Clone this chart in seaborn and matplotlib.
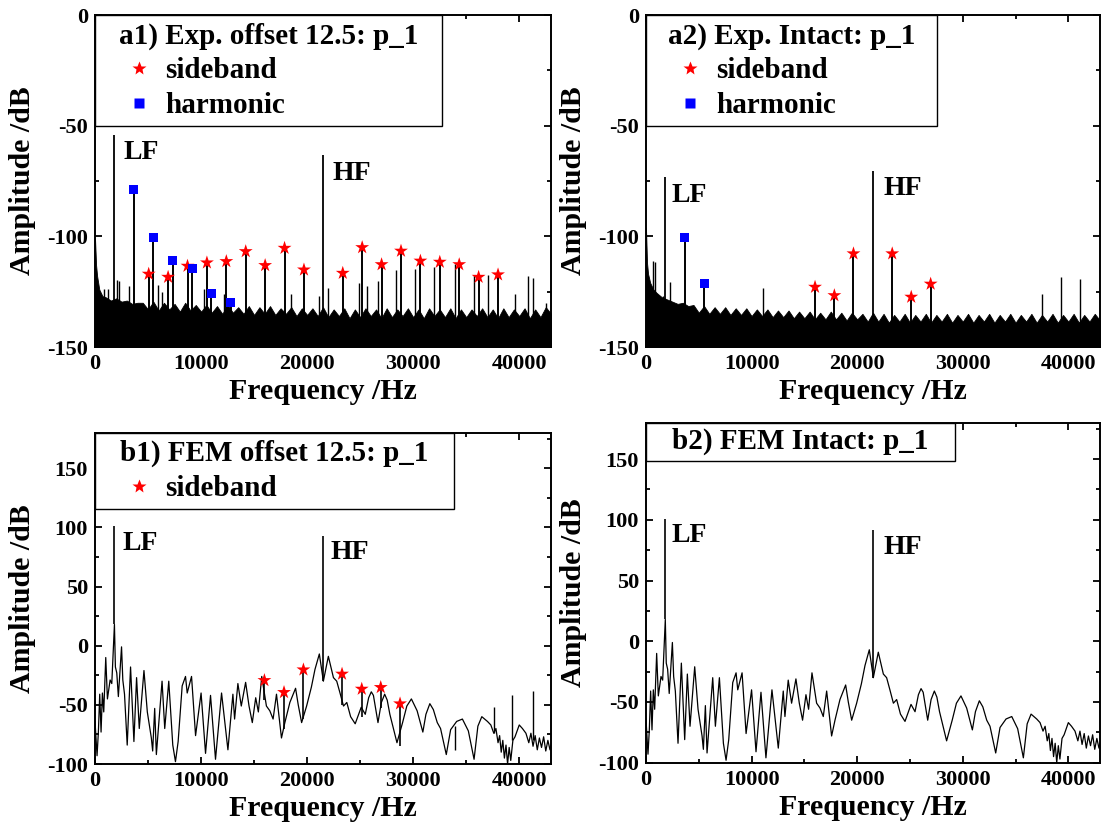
import matplotlib
matplotlib.use("Agg")
import matplotlib.pyplot as plt
import seaborn as sns
from matplotlib.lines import Line2D
from matplotlib.patches import Rectangle
from matplotlib.ticker import MultipleLocator

# ---------------- data ----------------
freq_ticks = [0, 10000, 20000, 30000, 40000]
exp_yticks = [0, -50, -100, -150]
fem_yticks = [-100, -50, 0, 50, 100, 150]

# a1) Exp. offset 12.5
a1_lf = [1830, -54.1]
a1_hf = [21530, -63.4]
a1_sb_freq = [5060, 6890, 8720, 10550, 12380, 14210, 16040, 17870, 19700,
              23360, 25190, 27020, 28850, 30680, 32510, 34340, 36170, 38000]
a1_sb_db = [-117.0, -118.4, -113.4, -111.9, -111.3, -106.8, -113.1, -105.3, -115.1,
            -116.6, -105.0, -112.7, -106.6, -111.1, -111.6, -112.7, -118.4, -117.3]
a1_h_freq = [3660, 5490, 7320, 9150, 10980, 12810]
a1_h_db = [-78.9, -100.3, -110.8, -114.5, -125.9, -130.1]
a1_extra_freq = [800, 1260, 2050, 2270, 3250, 5950, 6300, 10250, 12150, 18500, 21100,
                 21950, 24850, 25600, 26700, 28400, 30200, 32000, 33900, 35700, 37100,
                 39600, 40800, 41300, 42500]
a1_extra_db = [-124, -124, -119.5, -120, -122.6, -122, -125, -124, -126, -126, -127,
               -123.5, -121, -122.5, -120, -115, -114.6, -114, -112.3, -117.6, -117.6,
               -126, -118, -119, -130]

# a2) Exp. Intact
a2_lf = [1830, -73.2]
a2_hf = [21530, -70.5]
a2_sb_freq = [16010, 17840, 19650, 23320, 25120, 26960]
a2_sb_db = [-122.9, -126.7, -107.8, -107.8, -127.4, -121.5]
a2_h_freq = [3670, 5500]
a2_h_db = [-100.6, -121.1]
a2_extra_freq = [700, 850, 1600, 2235, 11080, 37500, 39340, 41090]
a2_extra_db = [-111, -111.5, -127, -120.6, -123.2, -126, -118.4, -119.3]

# noise floor (upper envelope) of the measured spectra
noise_freq = [0, 100, 200, 400, 700, 1000, 1500, 2000, 2500, 3000, 3500, 4000,
              4500, 5000, 5500, 6000, 6500, 7000, 7500, 8000, 8500, 9000, 9500, 10000,
              10500, 11000, 11500, 12000, 12500, 13000, 13500, 14000, 14500, 15000,
              15500, 16000, 16500, 17000, 17500, 18000, 18500, 19000, 19500, 20000,
              20500, 21000, 21500, 22000, 22500, 23000, 23500, 24000, 24500, 25000,
              25500, 26000, 26500, 27000, 27500, 28000, 28500, 29000, 29500, 30000,
              30500, 31000, 31500, 32000, 32500, 33000, 33500, 34000, 34500, 35000,
              35500, 36000, 36500, 37000, 37500, 38000, 38500, 39000, 39500, 40000,
              40500, 41000, 41500, 42000, 42500, 43000]
a1_noise_db = [-101, -113, -118, -124, -127, -127.5, -129, -128, -129.5, -129, -130.5, -130,
               -130, -133, -129.5, -133.5, -130, -133, -130.5, -134, -130, -133.5, -131, -134,
               -131, -134.5, -131.5, -135, -131, -134.5, -132, -135, -131.5, -135.5,
               -132, -135, -131.5, -135.5, -132.5, -135, -132, -136, -132.5, -135.5,
               -132.5, -136, -132, -136.5, -133, -136, -132.5, -137, -133, -136.5,
               -132.5, -136, -133, -137, -132.5, -136.5, -133, -136, -132.5, -136.5,
               -133, -137, -132.5, -136, -133, -136.5, -132.5, -137, -133, -136.5,
               -133, -136, -132.5, -136.5, -133, -137, -132.5, -136.5, -133, -136,
               -132.5, -137, -133, -136.5, -132, -135]
a2_noise_db = [-96, -112, -117, -121, -124, -125.5, -127.5, -128.5, -129.5, -130.5, -130, -131.5,
               -131, -134.5, -131.5, -135, -132, -135, -132, -135.5, -132.5, -135.5, -132.5, -136,
               -133, -136, -133, -136.5, -133.5, -136.5, -133.5, -137, -134, -137,
               -134, -137.5, -134.5, -137.5, -134, -137.5, -134.5, -138, -134.5, -137.5,
               -135, -138.5, -134.5, -138.5, -135, -139, -135.5, -138.5, -135, -139,
               -135.5, -138.5, -135, -139, -135.5, -138.5, -135, -139, -135.5, -138.5,
               -135, -139, -135.5, -138.5, -135, -139, -135.5, -138.5, -135, -139,
               -135.5, -138.5, -135, -139, -135.5, -138.5, -135, -139, -135.5, -138.5,
               -135, -139, -135.5, -138.5, -135, -138]

# FEM spectrum (shared base curve of b1 / b2)
fem_freq = [0, 190, 316, 442, 569, 695, 822, 1011, 1169, 1422, 1580, 1830, 1920, 2050,
            2200, 2500, 2620, 2780, 3034, 3350, 3666, 3918, 4171, 4614, 4930, 5310,
            5435, 5625, 5783, 6320, 6573, 6952, 7331, 7584, 7837, 8216, 8532, 8690,
            9100, 9480, 10000, 10420, 10890, 11360, 11930, 12530, 13000, 13160, 13470,
            13790, 14200, 14520, 14830, 15150, 15400, 15720, 16160, 16480, 16790,
            17110, 17580, 17900, 18370, 18910, 19160, 19480, 19950, 20400, 20740,
            21150, 21530, 22000, 22480, 22790, 23100, 23430, 23740, 24100, 24530,
            25100, 25480, 25800, 26050, 26250, 26400, 26680, 27000, 27310, 27550,
            27800, 28470, 29000, 29400, 29830, 30370, 30910, 31200, 31570, 31900,
            32270, 32580, 33120, 33530, 34100, 34640, 35200, 35740, 36100, 36470,
            37000, 37320, 37600, 37800, 38000, 38150, 38300, 38450, 38600, 38750,
            38900, 39050, 39200, 39400, 39600, 40000, 40300, 40630, 40900, 41100,
            41300, 41500, 41700, 41900, 42100, 42300, 42500, 42700, 42900, 43000]
fem_db = [-64, -93, -73, -41, -73, -40, -56, -10, -45, -29, -32, 18, -18, -23,
          -43, -1, -29, -41, -84, -18, -81, -27, -70, -21, -56, -78,
          -89, -53, -92, -30, -70, -30, -84, -98, -81, -34, -26, -40,
          -26, -76, -40, -91, -42, -96, -40, -88, -41, -62, -32,
          -51, -31, -51, -65, -44, -56, -26, -51, -55, -62,
          -41, -78, -65, -48, -36, -50, -65, -51, -35, -20,
          -7, -30, -9, -27, -30, -40, -51, -48, -60, -66,
          -52, -58, -44, -39, -42, -50, -65, -48, -41, -46,
          -58, -82, -65, -51, -45, -55, -73, -58, -49, -54,
          -65, -70, -92, -71, -64, -62, -72, -96, -68, -60,
          -64, -67, -74, -70, -82, -76, -90, -80, -95, -84,
          -100, -86, -97, -80, -77, -67, -70, -74, -82, -74,
          -85, -76, -88, -78, -86, -77, -89, -80, -88, -84]

b1_lf = [1830, 18, 100.8]          # freq, base, top
b1_hf = [21530, -30, 92.4]
b2_lf = [1830, 18, 100.9]
b2_hf = [21530, -30, 92.0]
b1_sb_freq = [15970, 17820, 19650, 23290, 25150, 26940, 28760]
b1_sb_db = [-29.3, -39.4, -20.3, -23.9, -36.6, -35.2, -49.0]
b1_sb_base = [-46, -70, -62, -50, -60, -53, -85]
b1_extra_freq = [33900, 37600, 39360, 41250]
b1_extra_top = [-68, -52, -41.4, -38]
b1_extra_base = [-88, -74, -80, -80]

# ---------------- style ----------------
sns.set_theme(style="ticks")
plt.rcParams["font.family"] = ["Liberation Serif", "DejaVu Serif"]
plt.rcParams["font.weight"] = "bold"
plt.rcParams["axes.labelweight"] = "bold"
plt.rcParams["axes.edgecolor"] = "black"
plt.rcParams["xtick.color"] = "black"
plt.rcParams["ytick.color"] = "black"
plt.rcParams["text.color"] = "black"
plt.rcParams["axes.labelcolor"] = "black"

fig = plt.figure(figsize=(11.05, 8.3), dpi=100)
ax_a1 = fig.add_axes([0.0860, 0.5819, 0.4127, 0.4000])
ax_a2 = fig.add_axes([0.5846, 0.5819, 0.4109, 0.4000])
ax_b1 = fig.add_axes([0.0860, 0.0795, 0.4127, 0.3992])
ax_b2 = fig.add_axes([0.5846, 0.0811, 0.4109, 0.4096])

TICK_FS = 16
LABEL_FS = 21.5
LEG_FS = 21
LFHF_FS = 20


def style_axes(ax, ylim, yticks):
    ax.set_xlim(0, 43000)
    ax.set_ylim(*ylim)
    ax.set_xticks(freq_ticks)
    ax.set_xticklabels([str(t) for t in freq_ticks])
    ax.set_yticks(yticks)
    ax.set_yticklabels([str(t) for t in yticks])
    ax.xaxis.set_minor_locator(MultipleLocator(5000))
    ax.yaxis.set_minor_locator(MultipleLocator(25))
    ax.tick_params(which="both", direction="in", top=True, right=True,
                   width=1.3, labelsize=TICK_FS, pad=5)
    ax.tick_params(which="major", length=5)
    ax.tick_params(which="minor", length=3)
    for sp in ax.spines.values():
        sp.set_visible(True)
        sp.set_linewidth(1.4)
        sp.set_color("black")
    ax.set_xlabel("Frequency /Hz", fontsize=LABEL_FS, fontweight="bold", labelpad=3)
    ax.set_ylabel("Amplitude /dB", fontsize=LABEL_FS, fontweight="bold", labelpad=8)
    ax.grid(False)
    ax.set_facecolor("white")


def add_legend(ax, title, width_frac, with_sb, with_h):
    handles, labels = [], []
    if with_sb:
        handles.append(Line2D([], [], marker="*", color="red", ls="none", ms=10, mec="none"))
        labels.append("sideband")
    if with_h:
        handles.append(Line2D([], [], marker="s", color="blue", ls="none", ms=6.5, mec="none"))
        labels.append("harmonic")
    leg = ax.legend(handles, labels, title=title, loc="upper left",
                    bbox_to_anchor=(0, 0, width_frac, 1), mode="expand",
                    borderaxespad=0, frameon=True, fancybox=False, framealpha=1,
                    edgecolor="black", borderpad=0.25, handlelength=2.5,
                    handletextpad=-0.35, labelspacing=0.26,
                    prop=dict(size=LEG_FS, weight="bold"),
                    title_fontproperties=dict(size=LEG_FS, weight="bold"))
    leg.get_frame().set_linewidth(1.0)
    leg.set_zorder(10)
    return leg


def add_title_box(ax, title, width_frac, height_frac):
    ax.add_patch(Rectangle((0, 1 - height_frac), width_frac, height_frac,
                           transform=ax.transAxes, facecolor="white",
                           edgecolor="black", lw=1.0, zorder=10))
    ax.text(width_frac / 2, 1 - height_frac / 2, title, transform=ax.transAxes,
            ha="center", va="center", fontsize=LEG_FS, fontweight="bold", zorder=11)


def draw_exp(ax, noise_db, extra_f, extra_db, h_f, h_db, sb_f, sb_db, lf, hf):
    ax.fill_between(noise_freq, -150, noise_db, color="black", lw=0.6, zorder=2)
    ax.vlines(extra_f, -150, extra_db, color="black", lw=1.0, zorder=3)
    ax.vlines(h_f, -150, h_db, color="black", lw=1.4, zorder=3)
    ax.vlines(sb_f, -150, sb_db, color="black", lw=1.4, zorder=3)
    ax.vlines([lf[0], hf[0]], -150, [lf[1], hf[1]], color="black", lw=1.3, zorder=3)
    sns.scatterplot(x=sb_f, y=sb_db, marker="*", s=110, color="red",
                    edgecolor="none", ax=ax, zorder=5, legend=False)
    sns.scatterplot(x=h_f, y=h_db, marker="s", s=42, color="blue",
                    edgecolor="none", ax=ax, zorder=5, legend=False)


# ---- a1 ----
draw_exp(ax_a1, a1_noise_db, a1_extra_freq, a1_extra_db, a1_h_freq, a1_h_db,
         a1_sb_freq, a1_sb_db, a1_lf, a1_hf)
style_axes(ax_a1, (-150, 0), exp_yticks)
ax_a1.text(2660, -62, "LF", fontsize=LFHF_FS, fontweight="bold", va="center", ha="left")
ax_a1.text(22350, -71.7, "HF", fontsize=LFHF_FS, fontweight="bold", va="center", ha="left")
add_legend(ax_a1, "a1) Exp. offset 12.5: p_1", 0.761, True, True)

# ---- a2 ----
draw_exp(ax_a2, a2_noise_db, a2_extra_freq, a2_extra_db, a2_h_freq, a2_h_db,
         a2_sb_freq, a2_sb_db, a2_lf, a2_hf)
style_axes(ax_a2, (-150, 0), exp_yticks)
ax_a2.text(2405, -81.6, "LF", fontsize=LFHF_FS, fontweight="bold", va="center", ha="left")
ax_a2.text(22500, -78.2, "HF", fontsize=LFHF_FS, fontweight="bold", va="center", ha="left")
add_legend(ax_a2, "a2) Exp. Intact: p_1", 0.641, True, True)

# ---- b1 ----
sns.lineplot(x=fem_freq, y=fem_db, ax=ax_b1, color="black", lw=0.9,
             estimator=None, sort=False, zorder=3)
ax_b1.vlines([b1_lf[0], b1_hf[0]], [b1_lf[1], b1_hf[1]], [b1_lf[2], b1_hf[2]],
             color="black", lw=1.2, zorder=3)
ax_b1.vlines(b1_sb_freq, b1_sb_base, b1_sb_db, color="black", lw=1.2, zorder=3)
ax_b1.vlines(b1_extra_freq, b1_extra_base, b1_extra_top, color="black", lw=1.0, zorder=3)
sns.scatterplot(x=b1_sb_freq, y=b1_sb_db, marker="*", s=110, color="red",
                edgecolor="none", ax=ax_b1, zorder=5, legend=False)
style_axes(ax_b1, (-100, 180), fem_yticks)
ax_b1.text(2590, 86, "LF", fontsize=LFHF_FS, fontweight="bold", va="center", ha="left")
ax_b1.text(22200, 78.4, "HF", fontsize=LFHF_FS, fontweight="bold", va="center", ha="left")
add_legend(ax_b1, "b1) FEM offset 12.5: p_1", 0.787, True, False)

# ---- b2 ----
sns.lineplot(x=fem_freq, y=fem_db, ax=ax_b2, color="black", lw=0.9,
             estimator=None, sort=False, zorder=3)
ax_b2.vlines([b2_lf[0], b2_hf[0]], [b2_lf[1], b2_hf[1]], [b2_lf[2], b2_hf[2]],
             color="black", lw=1.2, zorder=3)
style_axes(ax_b2, (-100, 180), fem_yticks)
ax_b2.text(2400, 86.9, "LF", fontsize=LFHF_FS, fontweight="bold", va="center", ha="left")
ax_b2.text(22480, 77.6, "HF", fontsize=LFHF_FS, fontweight="bold", va="center", ha="left")
add_title_box(ax_b2, "b2) FEM Intact: p_1", 0.68, 0.112)

fig.savefig("out.png", dpi=100, facecolor="white")
